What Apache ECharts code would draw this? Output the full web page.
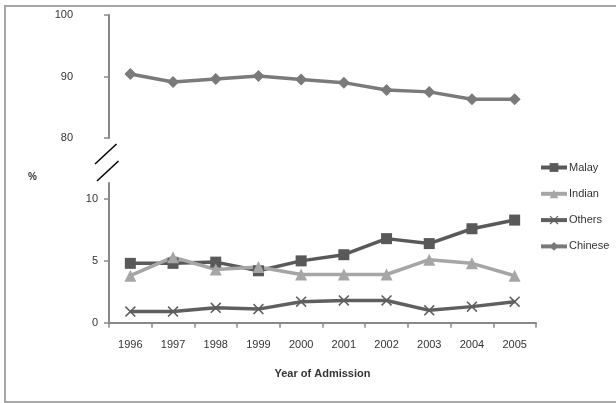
<!DOCTYPE html>
<html>
<head>
<meta charset="utf-8">
<script src="https://cdn.jsdelivr.net/npm/echarts@6/dist/echarts.min.js"></script>
<style>html,body{margin:0;padding:0;background:#fff}#c{width:616px;height:403px}</style>
</head>
<body>
<div id="c"></div>
<script>
var years = ['1996','1997','1998','1999','2000','2001','2002','2003','2004','2005'];
var malay   = [4.8, 4.8, 4.9, 4.2, 5.0, 5.5, 6.8, 6.4, 7.6, 8.3];
var indian  = [3.8, 5.3, 4.3, 4.5, 3.9, 3.9, 3.9, 5.1, 4.8, 3.8];
var others  = [0.9, 0.9, 1.2, 1.1, 1.7, 1.8, 1.8, 1.0, 1.3, 1.7];
var chinese = [90.4, 89.1, 89.6, 90.1, 89.5, 89.0, 87.8, 87.5, 86.3, 86.3];
var topTicks = [80, 90, 100];
var bottomTicks = [0, 5, 10];

var FONT = 'Liberation Sans';
var axisColor = '#898989';
var textColor = '#333';
var xSym = 'path://M0,1 L1,0 L5,4 L9,0 L10,1 L6,5 L10,9 L9,10 L5,6 L1,10 L0,9 L4,5 Z';

var chart = echarts.init(document.getElementById('c'), null, {renderer: 'canvas'});
chart.setOption({
  animation: false,
  backgroundColor: '#fff',
  textStyle: {fontFamily: FONT},
  grid: [
    {left: 109, top: 15, width: 427, height: 123},
    {left: 109, top: 183, width: 427, height: 139.7}
  ],
  xAxis: [
    {gridIndex: 0, type: 'category', data: years, show: false, boundaryGap: true},
    {gridIndex: 1, type: 'category', data: years, boundaryGap: true,
     axisLine: {lineStyle: {color: axisColor, width: 2}},
     axisTick: {show: true, length: 5, lineStyle: {color: axisColor, width: 1.5}},
     axisLabel: {color: textColor, fontSize: 11, fontFamily: FONT, margin: 17},
     name: 'Year of Admission', nameLocation: 'middle', nameGap: 46,
     nameTextStyle: {color: textColor, fontSize: 11, fontWeight: 'bold', fontFamily: FONT}
    }
  ],
  yAxis: [
    {gridIndex: 0, type: 'value', min: 80, max: 100, interval: 10,
     axisLine: {show: true, lineStyle: {color: axisColor, width: 2}},
     axisTick: {show: true, length: 5, customValues: topTicks, lineStyle: {color: axisColor, width: 1.5}},
     axisLabel: {color: textColor, fontSize: 11, fontFamily: FONT, margin: 36, customValues: topTicks},
     splitLine: {show: false}
    },
    {gridIndex: 1, type: 'value', min: 0, max: 11.3,
     axisLine: {show: true, lineStyle: {color: axisColor, width: 2}},
     axisTick: {show: true, length: 5, customValues: bottomTicks, lineStyle: {color: axisColor, width: 1.5}},
     axisLabel: {color: textColor, fontSize: 11, fontFamily: FONT, margin: 11, customValues: bottomTicks},
     splitLine: {show: false}
    }
  ],
  legend: {
    orient: 'vertical', left: 534, top: 157,
    itemWidth: 26, itemHeight: 11, itemGap: 15.3,
    lineStyle: {width: 4},
    textStyle: {color: textColor, fontSize: 11, fontFamily: FONT, padding: [0,0,0,-3]},
    data: ['Malay', 'Indian', 'Others', 'Chinese']
  },
  series: [
    {name: 'Malay', type: 'line', xAxisIndex: 1, yAxisIndex: 1, data: malay,
     symbol: 'rect', symbolSize: 11,
     lineStyle: {color: '#595959', width: 3.5}, itemStyle: {color: '#595959'}},
    {name: 'Indian', type: 'line', xAxisIndex: 1, yAxisIndex: 1, data: indian,
     symbol: 'triangle', symbolSize: 12,
     lineStyle: {color: '#a6a6a6', width: 3.5}, itemStyle: {color: '#a6a6a6'}},
    {name: 'Others', type: 'line', xAxisIndex: 1, yAxisIndex: 1, data: others,
     symbol: xSym, symbolSize: 11,
     lineStyle: {color: '#5f5f5f', width: 3.5}, itemStyle: {color: '#5f5f5f'}},
    {name: 'Chinese', type: 'line', xAxisIndex: 0, yAxisIndex: 0, data: chinese,
     symbol: 'diamond', symbolSize: 12,
     lineStyle: {color: '#7a7a7a', width: 3.5}, itemStyle: {color: '#7a7a7a'}}
  ],
  graphic: [
    {type: 'rect', shape: {x: 5, y: 6, width: 620, height: 396}, style: {fill: null, stroke: '#a6a6a6', lineWidth: 2}, silent: true},
    {type: 'line', shape: {x1: 95, y1: 164, x2: 116.5, y2: 144}, style: {stroke: '#000', lineWidth: 1.5}},
    {type: 'line', shape: {x1: 97, y1: 181, x2: 118.5, y2: 161}, style: {stroke: '#000', lineWidth: 1.5}},
    {type: 'text', left: 28, top: 172, style: {text: '%', fill: textColor, font: 'bold 10px ' + FONT}}
  ]
});
</script>
</body>
</html>
